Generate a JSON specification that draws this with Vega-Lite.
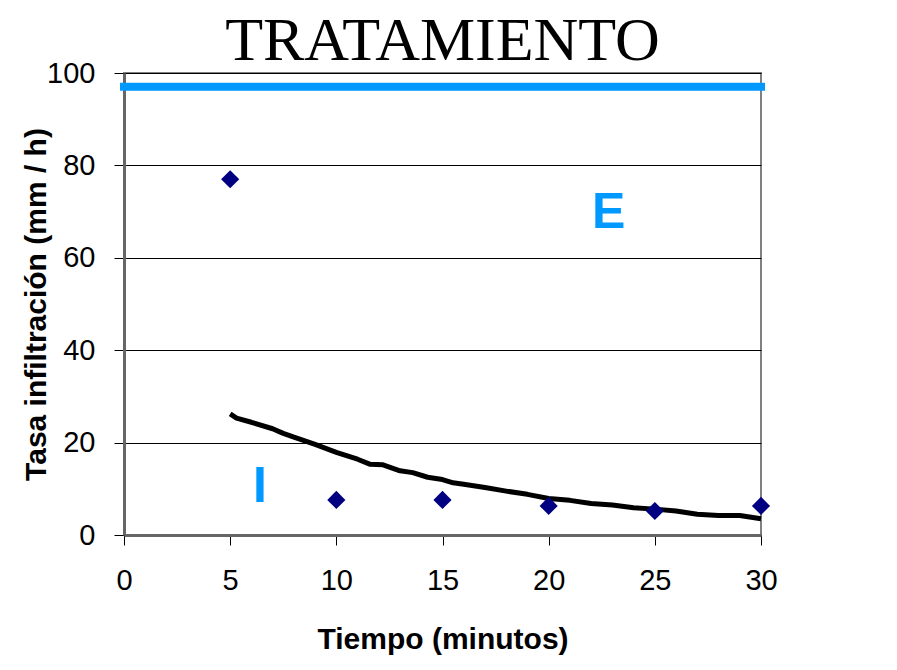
{
  "$schema": "https://vega.github.io/schema/vega-lite/v6.json",
  "width": 637,
  "height": 462,
  "autosize": {"type": "none"},
  "padding": {"left": 124, "top": 73, "right": 136, "bottom": 135},
  "background": "white",
  "title": {
    "text": "TRATAMIENTO",
    "font": "Liberation Serif",
    "fontSize": 62,
    "fontWeight": "normal",
    "color": "black",
    "anchor": "middle",
    "baseline": "alphabetic",
    "offset": -63
  },
  "config": {
    "view": {"stroke": "#808080", "strokeWidth": 2},
    "axis": {
      "labelFont": "Liberation Sans",
      "labelFontSize": 29,
      "labelColor": "black",
      "titleFont": "Liberation Sans",
      "titleFontSize": 30,
      "titleFontWeight": "bold",
      "titleColor": "black",
      "domainColor": "#666666",
      "domainWidth": 3,
      "tickColor": "black",
      "tickWidth": 1,
      "tickSize": 10
    }
  },
  "datasets": {
    "obs": [
      {"tiempo": 5, "tasa": 77},
      {"tiempo": 10, "tasa": 7.6},
      {"tiempo": 15, "tasa": 7.6},
      {"tiempo": 20, "tasa": 6.3},
      {"tiempo": 25, "tasa": 5.2},
      {"tiempo": 30, "tasa": 6.3}
    ],
    "curva": [
      {"tiempo": 5, "tasa": 26.2},
      {"tiempo": 5.3, "tasa": 25.3},
      {"tiempo": 6, "tasa": 24.4},
      {"tiempo": 7, "tasa": 23.0},
      {"tiempo": 7.5, "tasa": 22.0},
      {"tiempo": 8, "tasa": 21.2},
      {"tiempo": 9, "tasa": 19.6},
      {"tiempo": 10, "tasa": 17.9},
      {"tiempo": 11, "tasa": 16.4},
      {"tiempo": 11.6, "tasa": 15.3},
      {"tiempo": 12.2, "tasa": 15.2},
      {"tiempo": 13, "tasa": 13.9},
      {"tiempo": 13.6, "tasa": 13.5},
      {"tiempo": 14.3, "tasa": 12.5},
      {"tiempo": 15, "tasa": 12.0},
      {"tiempo": 15.5, "tasa": 11.3},
      {"tiempo": 16, "tasa": 11.0},
      {"tiempo": 17, "tasa": 10.3},
      {"tiempo": 18, "tasa": 9.5},
      {"tiempo": 19, "tasa": 8.8},
      {"tiempo": 20, "tasa": 7.9},
      {"tiempo": 21, "tasa": 7.5},
      {"tiempo": 22, "tasa": 6.8},
      {"tiempo": 23, "tasa": 6.5},
      {"tiempo": 24, "tasa": 5.9},
      {"tiempo": 25, "tasa": 5.6},
      {"tiempo": 26, "tasa": 5.2},
      {"tiempo": 27, "tasa": 4.5},
      {"tiempo": 28, "tasa": 4.2},
      {"tiempo": 29, "tasa": 4.2},
      {"tiempo": 30, "tasa": 3.5}
    ],
    "limite": [
      {"inicio": 0, "fin": 30, "tasa": 97}
    ],
    "etiquetas": [
      {"tiempo": 6.4, "tasa": 7.2, "texto": "I"},
      {"tiempo": 22.83, "tasa": 66.4, "texto": "E"}
    ]
  },
  "layer": [
    {
      "data": {"name": "curva"},
      "mark": {"type": "line", "color": "black", "strokeWidth": 5, "strokeJoin": "round", "strokeCap": "butt"},
      "encoding": {
        "x": {
          "field": "tiempo",
          "type": "quantitative",
          "scale": {"domain": [0, 30], "nice": false, "zero": true},
          "axis": {
            "title": "Tiempo (minutos)",
            "values": [0, 5, 10, 15, 20, 25, 30],
            "grid": false,
            "labelPadding": 21,
            "titlePadding": 29,
            "labelFlush": false
          }
        },
        "y": {
          "field": "tasa",
          "type": "quantitative",
          "scale": {"domain": [0, 100], "nice": false},
          "axis": {
            "title": "Tasa infiltración (mm / h)",
            "values": [0, 20, 40, 60, 80, 100],
            "grid": true,
            "gridColor": "black",
            "gridWidth": 1,
            "gridOpacity": 1,
            "labelPadding": 19,
            "titlePadding": -5,
            "labelFlush": false
          }
        }
      }
    },
    {
      "data": {"name": "obs"},
      "mark": {"type": "point", "shape": "diamond", "filled": true, "color": "#000080", "size": 330, "opacity": 1},
      "encoding": {
        "x": {"field": "tiempo", "type": "quantitative"},
        "y": {"field": "tasa", "type": "quantitative"}
      }
    },
    {
      "data": {"name": "limite"},
      "mark": {"type": "rule", "color": "#0099FF", "strokeWidth": 8, "strokeCap": "square"},
      "encoding": {
        "x": {"field": "inicio", "type": "quantitative"},
        "x2": {"field": "fin"},
        "y": {"field": "tasa", "type": "quantitative"}
      }
    },
    {
      "data": {"name": "etiquetas"},
      "mark": {"type": "text", "font": "Liberation Sans", "fontSize": 50, "fontWeight": "bold", "color": "#0099FF", "align": "center", "baseline": "alphabetic"},
      "encoding": {
        "x": {"field": "tiempo", "type": "quantitative"},
        "y": {"field": "tasa", "type": "quantitative"},
        "text": {"field": "texto"}
      }
    }
  ]
}
